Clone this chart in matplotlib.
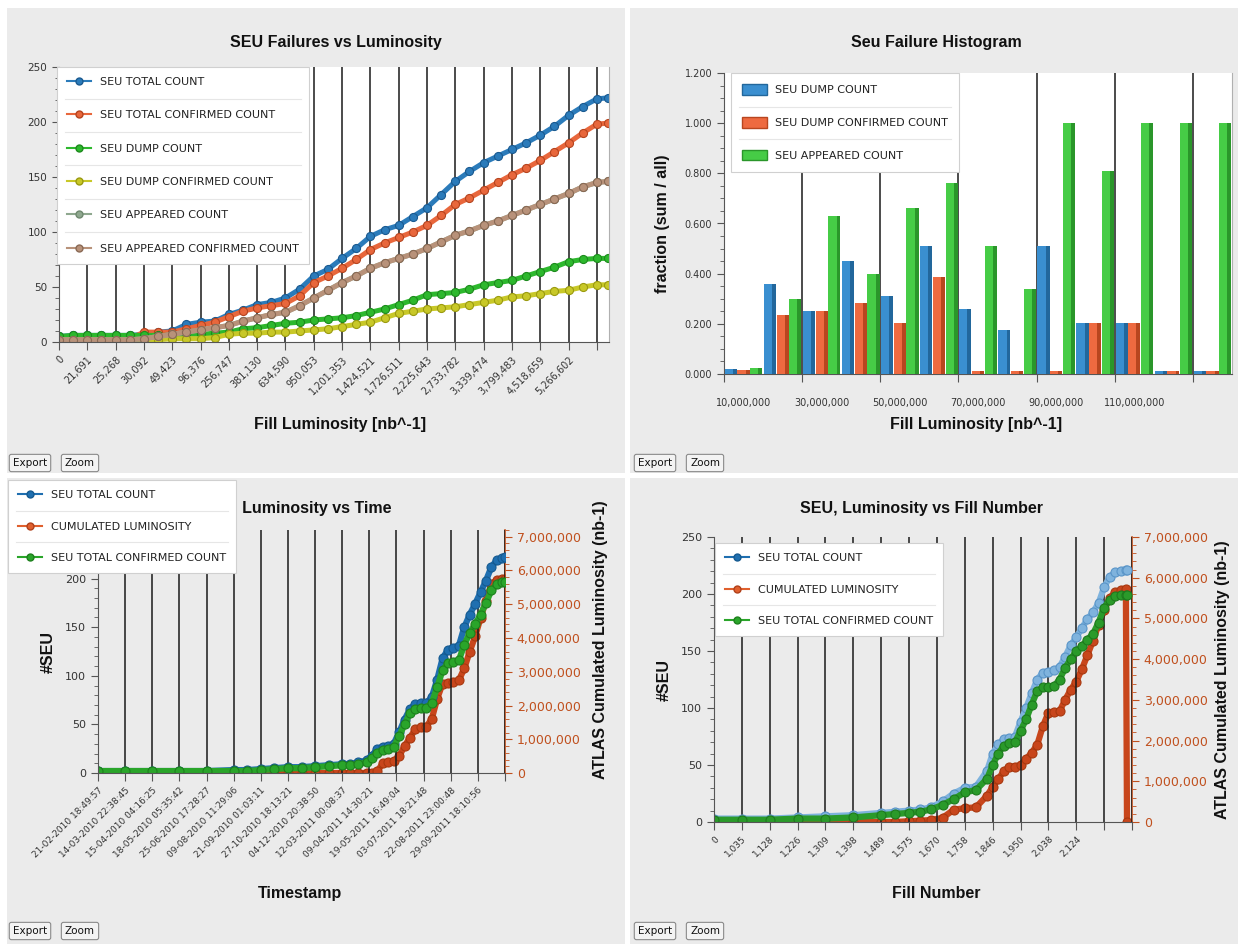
import matplotlib
matplotlib.use('Agg')
import matplotlib.pyplot as plt
from matplotlib.lines import Line2D
from matplotlib.patches import Rectangle, Patch
from matplotlib.ticker import FixedLocator, MultipleLocator, FuncFormatter, NullFormatter

plt.rcParams['font.family'] = ['DejaVu Sans']

# ---------------- data ----------------
# Top-left: SEU failures vs luminosity (x = fill index)
TL_IDX = [0, 5, 10, 15, 20, 25, 30, 35, 40, 45, 50, 55, 60, 65, 70, 75, 80, 85, 90, 95,
          100, 105, 110, 115, 120, 125, 130, 135, 140, 145, 150, 155, 160, 165, 170, 175,
          180, 185, 190, 194]
TL_TOTAL = [5, 6, 6, 6, 6, 6, 7, 9, 10, 16, 18, 19, 25, 29, 34, 36, 40, 48, 60, 66,
            76, 85, 96, 102, 106, 114, 122, 134, 146, 155, 163, 169, 175, 181, 188, 196,
            206, 214, 221, 222]
TL_TOTAL_CONF = [3, 3, 3, 3, 3, 3, 9, 9, 9, 12, 15, 18, 23, 28, 31, 33, 35, 42, 54, 60,
                 67, 75, 84, 90, 95, 100, 106, 115, 125, 131, 138, 145, 152, 158, 165, 173,
                 181, 190, 198, 199]
TL_DUMP = [5, 6, 6, 6, 6, 6, 6, 6, 6, 7, 7, 8, 9, 12, 13, 15, 17, 18, 20, 21,
           22, 24, 27, 30, 34, 38, 43, 44, 45, 48, 52, 54, 56, 60, 64, 68,
           73, 75, 76, 76]
TL_DUMP_CONF = [2, 2, 2, 2, 2, 2, 2, 2, 3, 3, 3, 4, 7, 8, 8, 9, 9, 10, 11, 12,
                14, 16, 18, 22, 26, 28, 30, 31, 32, 34, 36, 38, 41, 42, 44, 46,
                47, 50, 52, 52]
TL_APPEARED = [2, 2, 2, 2, 2, 2, 3, 5, 7, 9, 11, 13, 15, 19, 22, 25, 27, 33, 40, 47,
               54, 60, 67, 72, 76, 80, 85, 91, 97, 101, 106, 110, 115, 120, 125, 130,
               135, 141, 145, 146]
TL_APPEARED_CONF = [2, 2, 2, 2, 2, 2, 3, 5, 7, 9, 11, 13, 15, 19, 22, 25, 27, 33, 40, 47,
                    54, 60, 67, 72, 76, 80, 85, 91, 97, 101, 106, 110, 115, 120, 125, 130,
                    135, 141, 145, 146]
TL_TICKLABELS = ['0', '21,691', '25,268', '30,092', '49,423', '96,376', '256,747', '381,130',
                 '634,590', '950,053', '1,201,353', '1,424,521', '1,726,511', '2,225,643',
                 '2,733,782', '3,339,474', '3,799,483', '4,518,659', '5,266,602']

# Top-right: histogram
TR_BINS = ['10,000,000', '20,000,000', '30,000,000', '40,000,000', '50,000,000', '60,000,000',
           '70,000,000', '80,000,000', '90,000,000', '100,000,000', '110,000,000',
           '120,000,000', '130,000,000']
TR_DUMP = [0.02, 0.36, 0.25, 0.45, 0.31, 0.51, 0.26, 0.175, 0.51, 0.205, 0.205, 0.01, 0.01]
TR_DUMP_CONF = [0.015, 0.235, 0.25, 0.285, 0.205, 0.385, 0.01, 0.01, 0.01, 0.205, 0.205, 0.01, 0.01]
TR_APPEARED = [0.025, 0.30, 0.63, 0.40, 0.66, 0.76, 0.51, 0.34, 1.0, 0.81, 1.0, 1.0, 1.0]

# Bottom-left: SEU, luminosity vs time
BL_IDX = [0, 10, 20, 30, 40, 50, 55, 60, 65, 70, 75, 80, 85, 90, 93, 96, 99,
          101, 103, 105, 107, 109, 111, 113, 115, 117, 119, 121, 123, 125, 127, 129,
          131, 133, 135, 137, 139, 141, 143, 145, 147, 149, 150]
BL_TOTAL = [2, 2, 2, 2, 2, 3, 3, 4, 5, 6, 6, 7, 8, 9, 9, 11, 13,
            18, 25, 27, 28, 30, 42, 55, 66, 71, 72, 72, 78, 96, 118, 127,
            129, 131, 150, 163, 174, 186, 198, 212, 219, 221, 222]
BL_CONF = [2, 2, 2, 2, 2, 2, 2, 3, 4, 5, 5, 6, 7, 8, 8, 9, 11,
           15, 21, 24, 25, 27, 38, 50, 62, 66, 67, 67, 72, 88, 106, 113,
           114, 116, 132, 144, 153, 163, 175, 188, 194, 196, 196]
BL_LUMI = [0, 0, 0, 0, 0, 0, 0, 0, 0, 0, 0, 0, 0, 0, 0, 0, 0,
           0.0, 0.05, 0.3, 0.33, 0.35, 0.5, 0.8, 1.05, 1.3, 1.36, 1.37, 1.6, 2.2, 2.65, 2.68,
           2.7, 2.75, 3.1, 3.6, 4.05, 4.6, 5.1, 5.6, 5.72, 5.75, 5.75]  # millions nb-1
BL_TICKLABELS = ['21-02-2010 18:49:57', '14-03-2010 22:38:45', '15-04-2010 04:16:25',
                 '18-05-2010 05:35:42', '25-06-2010 17:28:27', '09-08-2010 11:29:06',
                 '21-09-2010 01:03:11', '27-10-2010 18:13:21', '04-12-2010 20:38:50',
                 '12-03-2011 00:08:37', '09-04-2011 14:30:21', '19-05-2011 16:49:04',
                 '03-07-2011 18:21:48', '22-08-2011 23:00:48', '29-09-2011 18:10:56']

# Bottom-right: SEU, luminosity vs fill number
BR_IDX = [0, 10, 20, 30, 40, 50, 60, 65, 70, 74, 78, 82, 86, 90, 94, 98,
          100, 102, 104, 106, 108, 110, 112, 114, 116, 118, 120, 122, 124, 126, 128, 130,
          132, 134, 136, 138, 140, 142, 144, 146, 147.8, 148.2]
BR_TOTAL = [3, 3, 3, 4, 5, 6, 8, 9, 10, 11, 13, 18, 25, 30, 31, 45,
            60, 68, 73, 74, 75, 88, 100, 113, 125, 131, 132, 133, 136, 145, 155, 162,
            170, 178, 184, 192, 206, 215, 219, 220, 221, 221]
BR_CONF = [2, 2, 2, 3, 3, 4, 6, 7, 8, 9, 11, 15, 20, 26, 28, 38,
           50, 60, 67, 69, 70, 80, 90, 103, 115, 118, 118, 119, 125, 135, 143, 150,
           154, 160, 165, 175, 188, 195, 198, 199, 199, 199]
BR_LUMI = [0, 0, 0, 0, 0, 0, 0, 0, 0.02, 0.03, 0.05, 0.1, 0.3, 0.34, 0.36, 0.65,
           0.86, 1.05, 1.25, 1.35, 1.36, 1.4, 1.55, 1.7, 1.9, 2.35, 2.68, 2.7, 2.72, 3.0, 3.25, 3.45,
           3.75, 4.1, 4.45, 4.85, 5.2, 5.5, 5.65, 5.7, 5.72, 0.0]  # millions nb-1
BR_TICKLABELS = ['0', '1,035', '1,128', '1,226', '1,309', '1,398', '1,489', '1,575', '1,670',
                 '1,758', '1,846', '1,950', '2,038', '2,124']

# ---------------- layout helpers ----------------
W, H = 1241, 946
fig = plt.figure(figsize=(W / 100, H / 100), dpi=100, facecolor='white')


def fx(x):
    return x / W


def fy(y):
    return 1 - y / H


def rect(l, t, r, b):
    return [fx(l), fy(b), (r - l) / W, (b - t) / H]


PANEL = '#ebebeb'
for (l, t, r, b) in [(7, 8, 625, 473), (630, 8, 1238, 473), (7, 478, 625, 944), (630, 478, 1238, 944)]:
    fig.add_artist(Rectangle((fx(l), fy(b)), (r - l) / W, (b - t) / H, transform=fig.transFigure,
                             fc=PANEL, ec='none', zorder=-10))

TITLE_FONT = dict(family='Liberation Sans', weight='bold', size=11.5, color='#111111')
LABEL_FONT = dict(family='Liberation Sans', weight='bold', size=11.5, color='#111111')
TICKC = '#333333'
LUMC = '#c0501e'


def button(x, y, s):
    fig.text(fx(x), fy(y), s, fontsize=7.5, ha='center', va='center', color='#111111',
             bbox=dict(boxstyle='round,pad=0.35,rounding_size=0.2', fc='#f3f3f3', ec='#8a8a8a', lw=0.8))


def style_axes(ax):
    ax.set_facecolor('white')
    ax.set_axisbelow(True)
    ax.grid(axis='x', which='major', color='#1a1a1a', lw=1.1)
    ax.grid(axis='y', visible=False)
    ax.spines['top'].set_visible(False)
    ax.spines['right'].set_color('#b0b0b0')
    ax.spines['left'].set_color('#555555')
    ax.spines['bottom'].set_color('#555555')
    ax.tick_params(axis='both', which='both', color='#555555', labelcolor=TICKC)
    ax.tick_params(axis='x', which='major', length=6, pad=3)
    ax.tick_params(axis='y', which='major', length=5, labelsize=7.5)
    ax.tick_params(axis='y', which='minor', length=3)


LEGENDS = []


def legend(handles, labels, left, top, fontsize=8, spacing=2.1, bp=0.9, hl=2.2, hh=0.7):
    lg = fig.legend(handles, labels, loc='upper left', bbox_to_anchor=(fx(left), fy(top)),
                    bbox_transform=fig.transFigure, frameon=True, fancybox=False,
                    edgecolor='#d0d0d0', facecolor='white', framealpha=1, fontsize=fontsize,
                    labelspacing=spacing, borderpad=bp, handlelength=hl, handleheight=hh,
                    handletextpad=0.8, borderaxespad=0)
    lg.get_frame().set_linewidth(0.8)
    for t in lg.get_texts():
        t.set_color('#222222')
    LEGENDS.append(lg)
    return lg


# ---------------- Top-left ----------------
ax1 = fig.add_axes(rect(59, 67, 609, 342))
style_axes(ax1)
tl_series = [
    (TL_TOTAL, 'SEU TOTAL COUNT', '#2b7bba', '#1a5a90'),
    (TL_TOTAL_CONF, 'SEU TOTAL CONFIRMED COUNT', '#e8673c', '#b5441f'),
    (TL_DUMP, 'SEU DUMP COUNT', '#2db82d', '#1d8a1d'),
    (TL_DUMP_CONF, 'SEU DUMP CONFIRMED COUNT', '#c8c828', '#9a9a10'),
    (TL_APPEARED, 'SEU APPEARED COUNT', '#8fa88f', '#6f886f'),
    (TL_APPEARED_CONF, 'SEU APPEARED CONFIRMED COUNT', '#b8927a', '#8a6a55'),
]
for vals, lab, c, ec in tl_series:
    ax1.plot(TL_IDX, vals, color=c, lw=3.6, marker='o', ms=5.8, mfc=c, mec=ec, mew=0.8,
             solid_joinstyle='round')
ax1.set_xlim(0, 194.3)
ax1.set_ylim(0, 250)
ax1.xaxis.set_major_locator(FixedLocator([i * 10 for i in range(20)]))
ax1.set_xticklabels(TL_TICKLABELS + [''], rotation=45, ha='right', rotation_mode='anchor', fontsize=7)
ax1.yaxis.set_major_locator(MultipleLocator(50))
ax1.yaxis.set_minor_locator(MultipleLocator(10))
legend([Line2D([], [], color=c, lw=1.5, marker='o', ms=5, mfc=c, mec=ec) for _, _, c, ec in tl_series],
       [s[1] for s in tl_series], 57, 67)
fig.text(fx(336), fy(42), 'SEU Failures vs Luminosity', ha='center', va='center', **TITLE_FONT)
fig.text(fx(340), fy(424), 'Fill Luminosity [nb^-1]', ha='center', va='center', **LABEL_FONT)
button(30, 463, 'Export')
button(80, 463, 'Zoom')

# ---------------- Top-right ----------------
ax2 = fig.add_axes(rect(724, 73, 1232, 374))
style_axes(ax2)
bar_specs = [
    (TR_DUMP, 'SEU DUMP COUNT', '#3a8fd0', '#22679c', -0.325),
    (TR_DUMP_CONF, 'SEU DUMP CONFIRMED COUNT', '#ee6a40', '#b8461f', 0.0),
    (TR_APPEARED, 'SEU APPEARED COUNT', '#46cc46', '#2a962a', 0.325),
]
xs = list(range(len(TR_BINS)))
for vals, lab, c, dc, off in bar_specs:
    ax2.bar([x + off for x in xs], vals, width=0.31, color=c, edgecolor='none', zorder=3)
    ax2.bar([x + off + 0.105 for x in xs], vals, width=0.1, color=dc, edgecolor='none', zorder=3)
ax2.set_xlim(-0.5, 12.5)
ax2.set_ylim(0, 1.2)
ax2.xaxis.set_major_locator(FixedLocator([-0.5 + 2 * i for i in range(7)]))
ax2.xaxis.set_major_formatter(NullFormatter())
ax2.xaxis.set_minor_locator(FixedLocator([0, 2, 4, 6, 8, 10]))
ax2.set_xticklabels([TR_BINS[i] for i in [0, 2, 4, 6, 8, 10]], minor=True, fontsize=7)
ax2.tick_params(axis='x', which='minor', length=0, pad=17, labelsize=7)
ax2.yaxis.set_major_locator(MultipleLocator(0.2))
ax2.yaxis.set_minor_locator(MultipleLocator(0.05))
ax2.yaxis.set_major_formatter(FuncFormatter(lambda v, p: f'{v:.3f}'))
ax2.tick_params(axis='y', labelsize=7)
legend([Patch(facecolor=c, edgecolor=dc) for _, _, c, dc, _ in bar_specs],
       [s[1] for s in bar_specs], 731, 73, spacing=1.95, bp=1.0, hl=2.2, hh=1.1)
fig.text(fx(936), fy(42), 'Seu Failure Histogram', ha='center', va='center', **TITLE_FONT)
fig.text(fx(976), fy(424), 'Fill Luminosity [nb^-1]', ha='center', va='center', **LABEL_FONT)
fig.text(fx(662), fy(224), 'fraction (sum / all)', ha='center', va='center', rotation=90, **LABEL_FONT)
button(655, 463, 'Export')
button(705, 463, 'Zoom')


# ---------------- bottom panels ----------------
def bottom_panel(l, t, r, b, idx, total, lumi, conf, ticklabels, lum_top,
                 c_total, ec_total, c_lum, ec_lum, c_conf, ec_conf, labsize, hide_top_label=False):
    ax = fig.add_axes(rect(l, t, r, b))
    axr = ax.twinx()
    style_axes(ax)
    axr.set_facecolor('white')
    ax.set_zorder(axr.get_zorder() + 1)
    ax.patch.set_visible(False)
    axr.plot(idx, lumi, color=c_lum, lw=4.5, marker='o', ms=6.5, mfc=c_lum, mec=ec_lum, mew=0.8)
    ax.plot(idx, total, color=c_total, lw=4.5, marker='o', ms=6.5, mfc=c_total, mec=ec_total, mew=0.8)
    ax.plot(idx, conf, color=c_conf, lw=4.5, marker='o', ms=6.5, mfc=c_conf, mec=ec_conf, mew=0.8)
    ax.set_xlim(0, 150)
    ax.set_ylim(0, 250)
    axr.set_ylim(0, lum_top)
    ax.xaxis.set_major_locator(FixedLocator([i * 10 for i in range(16)]))
    ax.set_xticklabels(ticklabels + [''] * (16 - len(ticklabels)), rotation=45, ha='right',
                       rotation_mode='anchor', fontsize=labsize)
    ax.yaxis.set_major_locator(MultipleLocator(50))
    ax.yaxis.set_minor_locator(MultipleLocator(10))
    if hide_top_label:
        # the top label sits under the legend box in the original chart
        ax.yaxis.set_major_formatter(FuncFormatter(lambda v, p: '' if v >= 250 else f'{int(v)}'))
    ax.tick_params(axis='y', labelsize=8)
    axr.yaxis.set_major_locator(MultipleLocator(1.0))
    axr.yaxis.set_minor_locator(MultipleLocator(0.2))
    axr.yaxis.set_major_formatter(FuncFormatter(lambda v, p: f'{int(round(v * 1e6)):,}'))
    axr.tick_params(axis='y', which='both', color=LUMC, labelcolor=LUMC, labelsize=9)
    axr.tick_params(axis='y', which='major', length=5)
    axr.tick_params(axis='y', which='minor', length=3)
    for s in ['top', 'left', 'bottom']:
        axr.spines[s].set_visible(False)
    axr.spines['right'].set_color(LUMC)
    axr.spines['right'].set_linewidth(1.2)
    ax.spines['right'].set_visible(False)
    return ax, axr


bl_handles_spec = [('SEU TOTAL COUNT', '#1f6fb0', '#155a90'),
                   ('CUMULATED LUMINOSITY', '#e0602e', '#b0401a'),
                   ('SEU TOTAL CONFIRMED COUNT', '#2aa52a', '#1d801d')]

bottom_panel(98, 530, 505, 773, BL_IDX, BL_TOTAL, BL_LUMI, BL_CONF, BL_TICKLABELS, 7.2,
             '#1f6fb0', '#155a90', '#c8461c', '#a8380f', '#2aa52a', '#1d801d', 6.5,
             hide_top_label=True)
fig.text(fx(296), fy(509), 'SEU, Luminosity vs Time', ha='center', va='center', **TITLE_FONT)
fig.text(fx(300), fy(893), 'Timestamp', ha='center', va='center', **LABEL_FONT)
fig.text(fx(48), fy(652), '#SEU', ha='center', va='center', rotation=90, **LABEL_FONT)
fig.text(fx(600), fy(640), 'ATLAS Cumulated Luminosity (nb-1)', ha='center', va='center',
         rotation=90, **LABEL_FONT)
legend([Line2D([], [], color=c, lw=1.5, marker='o', ms=5, mfc=c, mec=ec) for _, c, ec in bl_handles_spec],
       [s[0] for s in bl_handles_spec], 8, 480, spacing=1.95, bp=0.9)
button(30, 931, 'Export')
button(80, 931, 'Zoom')

bottom_panel(714, 537, 1132, 822, BR_IDX, BR_TOTAL, BR_LUMI, BR_CONF, BR_TICKLABELS, 7.0,
             '#7fb3dd', '#5a95c8', '#c8461c', '#a8380f', '#2a9a2a', '#1d7a1d', 6.5)
fig.text(fx(922), fy(509), 'SEU, Luminosity vs Fill Number', ha='center', va='center', **TITLE_FONT)
fig.text(fx(936), fy(893), 'Fill Number', ha='center', va='center', **LABEL_FONT)
fig.text(fx(664), fy(680), '#SEU', ha='center', va='center', rotation=90, **LABEL_FONT)
fig.text(fx(1222), fy(680), 'ATLAS Cumulated Luminosity (nb-1)', ha='center', va='center',
         rotation=90, **LABEL_FONT)
legend([Line2D([], [], color=c, lw=1.5, marker='o', ms=5, mfc=c, mec=ec) for _, c, ec in bl_handles_spec],
       [s[0] for s in bl_handles_spec], 715, 543, spacing=1.95, bp=0.9)
button(655, 931, 'Export')
button(705, 931, 'Zoom')

# subtle separator lines between legend entries
fig.canvas.draw()
renderer = fig.canvas.get_renderer()
inv = fig.transFigure.inverted()
for lg in LEGENDS:
    fb = lg.get_frame().get_window_extent(renderer)
    tb = [t.get_window_extent(renderer) for t in lg.get_texts()]
    for a, b in zip(tb[:-1], tb[1:]):
        ym = (a.y0 + b.y1) / 2
        (x0, y0) = inv.transform((fb.x0 + 8, ym))
        (x1, _) = inv.transform((fb.x1 - 8, ym))
        fig.add_artist(Line2D([x0, x1], [y0, y0], transform=fig.transFigure, color='#e6e6e6',
                              lw=0.8, zorder=lg.get_zorder() + 1))

fig.savefig('out.png', dpi=100, facecolor='white')
